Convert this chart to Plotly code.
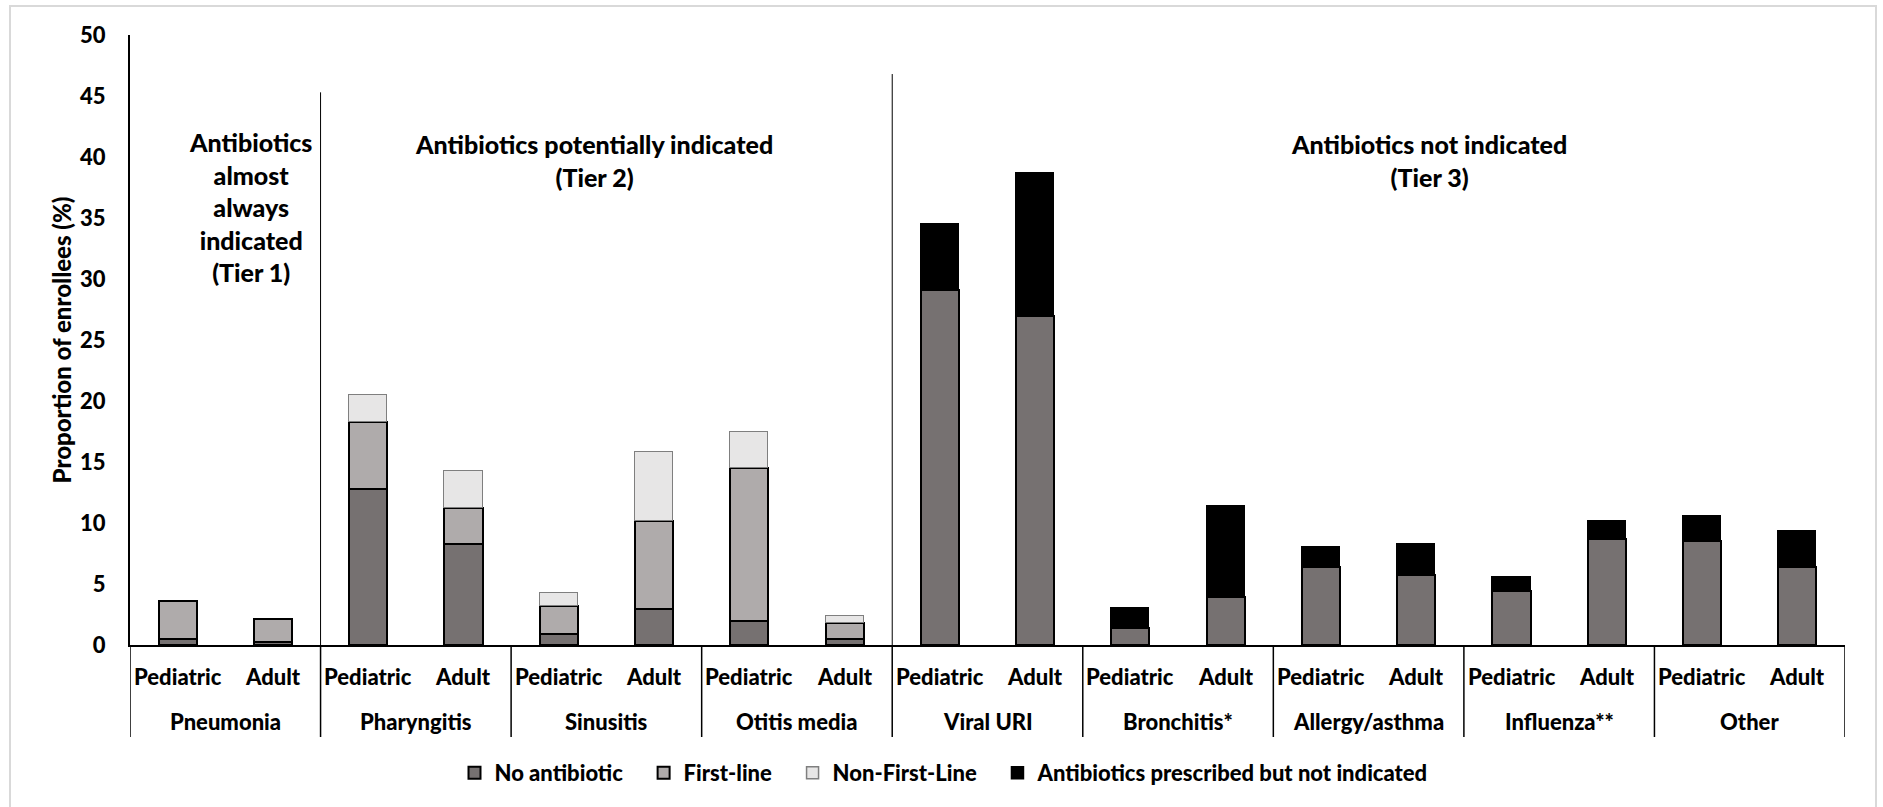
import plotly.graph_objects as go

# ---------------- data ----------------
groups = ["Pneumonia", "Pharyngitis", "Sinusitis", "Otitis media", "Viral URI",
          "Bronchitis*", "Allergy/asthma", "Influenza**", "Other"]
subgroups = ["Pediatric", "Adult"]

# segment values (%) per bar: Pediatric, Adult for each group in order
no_antibiotic = [0.5, 0.25, 12.8, 8.3, 0.9, 2.95, 2.0, 0.5,
                 29.1, 27.0, 1.4, 3.9, 6.4, 5.75, 4.45, 8.7, 8.5, 6.4]
first_line = [3.1, 1.9, 5.5, 2.95, 2.3, 7.2, 12.5, 1.3,
              None, None, None, None, None, None, None, None, None, None]
non_first_line = [None, None, 2.2, 3.05, 1.1, 5.65, 2.95, 0.6,
                  None, None, None, None, None, None, None, None, None, None]
not_indicated = [None, None, None, None, None, None, None, None,
                 5.4, 11.7, 1.6, 7.5, 1.6, 2.55, 1.15, 1.5, 2.1, 2.95]

series_names = ["No antibiotic", "First-line", "Non-First-Line",
                "Antibiotics prescribed but not indicated"]
tier_labels = ["Antibiotics<br>almost<br>always<br>indicated<br>(Tier 1)",
               "Antibiotics potentially indicated<br>(Tier 2)",
               "Antibiotics not indicated<br>(Tier 3)"]
y_title = "Proportion of enrollees (%)"

# ---------------- style ----------------
FONT = "Lato"
WT = 900
C_NO = "#767171"
C_FIRST = "#AFABAB"
C_NONFIRST = "#E7E6E6"
C_NOTIND = "#000000"

W, H = 1883, 807
ML, MR, MT, MB = 130, 38, 35, 162
PW = W - ML - MR
PH = H - MT - MB

xpos = list(range(len(groups) * 2))

fig = go.Figure()
pad = "\u00a0\u00a0\u00a0"
series = [
    (series_names[0] + pad, no_antibiotic, C_NO, "#000000", 2),
    (series_names[1] + pad, first_line, C_FIRST, "#000000", 2),
    (series_names[2] + pad, non_first_line, C_NONFIRST, "#7F7F7F", 1.5),
    (series_names[3], not_indicated, C_NOTIND, "#000000", 1.5),
]
for name, vals, col, lc, lw in series:
    fig.add_trace(go.Bar(
        x=xpos, y=vals, name=name, width=0.4,
        marker=dict(color=col, line=dict(color=lc, width=lw)),
    ))


def py_to_paper(py):
    return (H - MB - py) / PH


def px_to_paper(px):
    return (px - ML) / PW


shapes = []
# outer light border
shapes.append(dict(type="rect", xref="paper", yref="paper",
                   x0=px_to_paper(10), x1=px_to_paper(1876),
                   y0=py_to_paper(812), y1=py_to_paper(6),
                   line=dict(color="#D9D9D9", width=2), fillcolor="rgba(0,0,0,0)",
                   layer="below"))
# tier separators
shapes.append(dict(type="line", xref="x", yref="y", x0=1.5, x1=1.5, y0=0, y1=45.3,
                   line=dict(color="black", width=1)))
shapes.append(dict(type="line", xref="x", yref="y", x0=7.5, x1=7.5, y0=0, y1=46.8,
                   line=dict(color="black", width=1)))
# group boundaries below axis
for k in range(len(groups) + 1):
    xb = -0.5 + 2 * k
    shapes.append(dict(type="line", xref="x", yref="paper", x0=xb, x1=xb,
                       y0=0, y1=py_to_paper(737),
                       line=dict(color="black", width=1.5)))

annotations = []
for i, x in enumerate(xpos):
    annotations.append(dict(x=x, y=py_to_paper(676), xref="x", yref="paper",
                            text=subgroups[i % 2], showarrow=False,
                            xanchor="center", yanchor="middle",
                            font=dict(family=FONT, size=22, color="black", weight=WT)))
for g, name in enumerate(groups):
    annotations.append(dict(x=2 * g + 0.5, y=py_to_paper(721), xref="x", yref="paper",
                            text=name, showarrow=False,
                            xanchor="center", yanchor="middle",
                            font=dict(family=FONT, size=22, color="black", weight=WT)))
tier_pos = [(0.76, 35.9), (4.37, 39.75), (13.13, 39.75)]
for (tx, ty), t in zip(tier_pos, tier_labels):
    annotations.append(dict(x=tx, y=ty, xref="x", yref="y", text=t, showarrow=False,
                            xanchor="center", yanchor="middle", align="center",
                            font=dict(family=FONT, size=25, color="black", weight=WT)))

fig.update_layout(
    width=W, height=H,
    margin=dict(l=ML, r=MR, t=MT, b=MB, pad=0),
    paper_bgcolor="white", plot_bgcolor="white",
    barmode="stack", bargap=0,
    font=dict(family=FONT, size=22, color="black"),
    showlegend=True,
    legend=dict(orientation="h", x=px_to_paper(944), xanchor="center",
                y=py_to_paper(773), yanchor="middle",
                font=dict(family=FONT, size=22, color="black", weight=WT),
                traceorder="normal", itemclick=False),
    shapes=shapes, annotations=annotations,
    xaxis=dict(range=[-0.5, 17.5], showline=True, linecolor="black", linewidth=2,
               showticklabels=False, showgrid=False, zeroline=False, ticks=""),
    yaxis=dict(range=[0, 50], dtick=5, tick0=0, showline=True, linecolor="black",
               linewidth=2, showgrid=False, zeroline=False, ticks="",
               ticklabelstandoff=18,
               tickfont=dict(family=FONT, size=22, color="black", weight=WT),
               title=dict(text=y_title, standoff=2,
                          font=dict(family=FONT, size=24, color="black", weight=WT))),
)

fig.write_html("out.html", config={"displayModeBar": False},
               post_script="document.body.style.margin='0';")
